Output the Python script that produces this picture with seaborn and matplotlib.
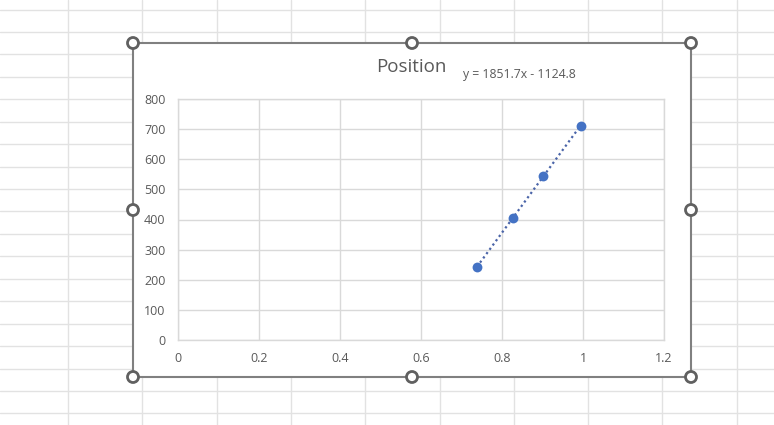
import numpy as np
import pandas as pd
import matplotlib
matplotlib.use("Agg")
import matplotlib.pyplot as plt
import seaborn as sns
from matplotlib.lines import Line2D
from matplotlib.patches import Rectangle, Circle

# data
time_s = [0.738, 0.827, 0.901, 0.995]
position = [241, 406, 545, 711]
trend_label = "y = 1851.7x - 1124.8"
x_ticks = [0, 0.2, 0.4, 0.6, 0.8, 1, 1.2]
x_tick_labels = ["0", "0.2", "0.4", "0.6", "0.8", "1", "1.2"]
y_ticks = [0, 100, 200, 300, 400, 500, 600, 700, 800]

df = pd.DataFrame({"time": time_s, "position": position})

sns.set_theme(style="white")
plt.rcParams["font.family"] = ["Open Sans", "DejaVu Sans"]

W, H = 774, 425
fig = plt.figure(figsize=(W / 100, H / 100), dpi=100)
fig.patch.set_facecolor("white")

def fx(px):
    return px / W

def fy(py):
    return 1 - py / H

# spreadsheet grid behind the chart
for k in range(11):
    x = 68 + 74.3 * k
    fig.add_artist(Line2D([fx(x), fx(x)], [0, 1], color="#e2e2e2", lw=1,
                          transform=fig.transFigure, zorder=-3))
for k in range(19):
    y = 9.5 + 22.44 * k
    fig.add_artist(Line2D([0, 1], [fy(y), fy(y)], color="#e2e2e2", lw=1,
                          transform=fig.transFigure, zorder=-3))

# chart frame
left, top, right, bottom = 133, 43, 691, 377
fig.add_artist(Rectangle((fx(left), fy(bottom)), fx(right) - fx(left), fy(top) - fy(bottom),
                         facecolor="white", edgecolor="#808080", lw=1.5,
                         transform=fig.transFigure, zorder=-2))

ax = fig.add_axes([fx(178), fy(340), fx(664) - fx(178), fy(99) - fy(340)])
ax.set_zorder(1)

sns.regplot(data=df, x="time", y="position", ax=ax, ci=None, truncate=True,
            scatter_kws=dict(s=50, color="#4472c4", alpha=1, linewidths=0, zorder=4),
            line_kws=dict(color="#4a64a8", lw=1.6, ls=(0, (1, 1.4)), zorder=3))

ax.set_xlim(0, 1.2)
ax.set_ylim(0, 800)
ax.set_xticks(x_ticks)
ax.set_xticklabels(x_tick_labels)
ax.set_yticks(y_ticks)
ax.grid(True, color="#d9d9d9", lw=1)
ax.set_axisbelow(True)
for s in ax.spines.values():
    s.set_color("#d9d9d9")
    s.set_linewidth(1)
ax.tick_params(length=0, labelsize=9, labelcolor="#595959")
ax.tick_params(axis="y", pad=9)
ax.tick_params(axis="x", pad=9)
ax.set_xlabel("")
ax.set_ylabel("")

fig.text(fx(411), fy(67), "Position", ha="center", va="center",
         fontsize=13.5, color="#595959")
fig.text(fx(463), fy(74.5), trend_label, ha="left", va="center",
         fontsize=8.8, color="#595959")

# selection handles
handles = [(left, top), ((left + right) / 2, top), (right, top),
           (left, (top + bottom) / 2), (right, (top + bottom) / 2),
           (left, bottom), ((left + right) / 2, bottom), (right, bottom)]
for hx, hy in handles:
    fig.add_artist(Circle((hx, H - hy), 5.5, facecolor="white", edgecolor="#606060",
                          lw=2, transform=None, zorder=5))

fig.savefig("out.png", dpi=100)
